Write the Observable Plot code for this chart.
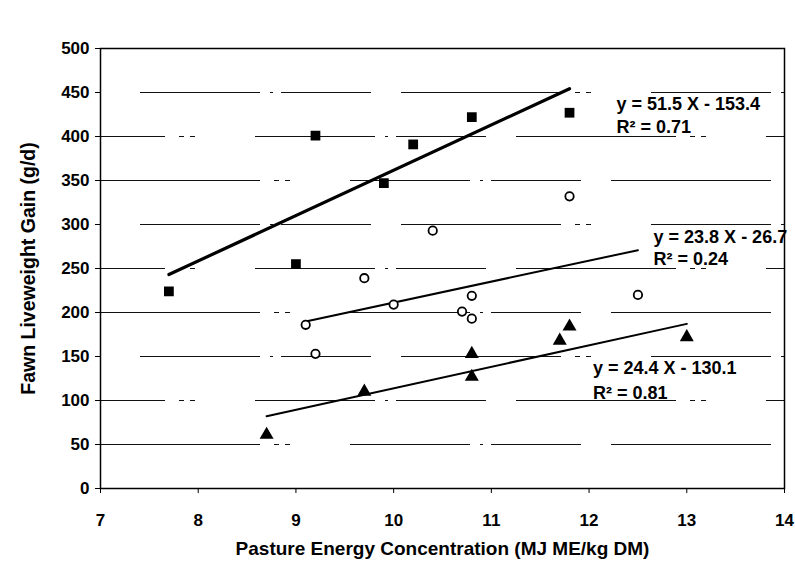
<!DOCTYPE html>
<html>
<head>
<meta charset="utf-8">
<script src="https://cdn.jsdelivr.net/npm/d3@7"></script>
<script src="https://cdn.jsdelivr.net/npm/@observablehq/plot@0.6"></script>
<style>
  html, body { margin: 0; padding: 0; background: #fff; }
  #chart { width: 795px; height: 582px; }
  svg { font-family: "Liberation Sans", Arial, sans-serif; }
</style>
</head>
<body>
<div id="chart"></div>
<script>
// Series: pasture energy (MJ ME/kg DM) vs fawn liveweight gain (g/d)
const squareX = [7.7, 9.0, 9.2, 9.9, 10.2, 10.8, 11.8];
const squareY = [224, 255, 401, 347, 391, 422, 427];
const circleX = [9.1, 9.2, 9.7, 10.0, 10.4, 10.7, 10.8, 10.8, 11.8, 12.5];
const circleY = [186, 153, 239, 209, 293, 201, 219, 193, 332, 220];
const triangleX = [8.7, 9.7, 10.8, 10.8, 11.7, 11.8, 13.0];
const triangleY = [61, 110, 153, 127, 168, 184, 172];

// Trendline equations y = slope * x + intercept, with R²
const slopes = [51.5, 23.8, 24.4];
const intercepts = [-153.4, -26.7, -130.1];
const r2 = ["0.71", "0.24", "0.81"];
const eqLabels = ["y = 51.5 X - 153.4", "y = 23.8 X - 26.7", "y = 24.4 X - 130.1"];
const r2Labels = r2.map(v => "R² = " + v);
// Annotation anchors (data coordinates)
const labelX = [12.28, 12.66, 12.04];
const labelY = [437, 286, 137];
const labelY2 = [410, 261, 108];

const xTicks = [7, 8, 9, 10, 11, 12, 13, 14];
const yTicks = [0, 50, 100, 150, 200, 250, 300, 350, 400, 450, 500];
const xTitle = "Pasture Energy Concentration (MJ ME/kg DM)";
const yTitle = "Fawn Liveweight Gain (g/d)";

const pts = (xs, ys) => xs.map((x, i) => ({x, y: ys[i]}));
const squares = pts(squareX, squareY);
const circles = pts(circleX, circleY);
const triangles = pts(triangleX, triangleY);

const seriesX = [squareX, circleX, triangleX];
const lines = [];
seriesX.forEach((xs, k) => {
  const x0 = d3.min(xs), x1 = d3.max(xs);
  [x0, x1].forEach(x => lines.push({k, x, y: slopes[k] * x + intercepts[k]}));
});
const labels = eqLabels.map((t, k) => ({x: labelX[k], y: labelY[k], t}))
  .concat(r2Labels.map((t, k) => ({x: labelX[k], y: labelY2[k], t})));

const inner = yTicks.filter(v => v > 0 && v < 500);
const gridDash = "160,14,5,6,5,60,120,10,3,8,90,30";
const gridOffsets = [0, 95, 210];
const gridMarks = gridOffsets.map((off, g) =>
  Plot.ruleY(inner.filter((v, i) => i % 3 === g), {stroke: "#111", strokeWidth: 1, strokeDasharray: gridDash, strokeDashoffset: off}));

const chart = Plot.plot({
  width: 795,
  height: 582,
  marginLeft: 100,
  marginRight: 11,
  marginTop: 48,
  marginBottom: 94,
  style: {fontFamily: "'Liberation Sans', Arial, sans-serif", fontWeight: "bold", color: "#000", background: "#fff"},
  x: {domain: [7, 14]},
  y: {domain: [0, 500]},
  marks: [
    ...gridMarks,
    Plot.frame({stroke: "#000", strokeWidth: 1.5}),
    Plot.axisX({ticks: xTicks, tickSize: 5, tickPadding: 20, fontSize: 17, fontWeight: "bold", label: null, tickFormat: d => d}),
    Plot.axisY({ticks: yTicks, tickSize: 5, tickPadding: 6, fontSize: 17, fontWeight: "bold", label: null, tickFormat: d => d}),
    Plot.text([xTitle], {frameAnchor: "bottom", textAnchor: "middle", dy: 66, fontSize: 19, fontWeight: "bold", fill: "#000"}),
    Plot.text([yTitle], {frameAnchor: "left", textAnchor: "middle", dx: -72, rotate: -90, fontSize: 19.5, fontWeight: "bold", fill: "#000"}),
    Plot.line(lines, {x: "x", y: "y", z: "k", stroke: "#000", strokeWidth: d => d.k === 0 ? 3.2 : 2}),
    Plot.dot(squares, {x: "x", y: "y", symbol: "square", r: 5.5, fill: "#000", stroke: "none"}),
    Plot.dot(circles, {x: "x", y: "y", symbol: "circle", r: 4.2, fill: "#fff", stroke: "#000", strokeWidth: 1.8}),
    Plot.dot(triangles, {x: "x", y: "y", symbol: "triangle", r: 5.2, fill: "#000", stroke: "none"}),
    Plot.text(labels, {x: "x", y: "y", text: "t", textAnchor: "start", fontSize: 18, fontWeight: "bold",
      fontFamily: "'Liberation Sans Narrow', 'Liberation Sans', Arial, sans-serif", fill: "#000"})
  ]
});
document.getElementById("chart").appendChild(chart);
</script>
</body>
</html>
